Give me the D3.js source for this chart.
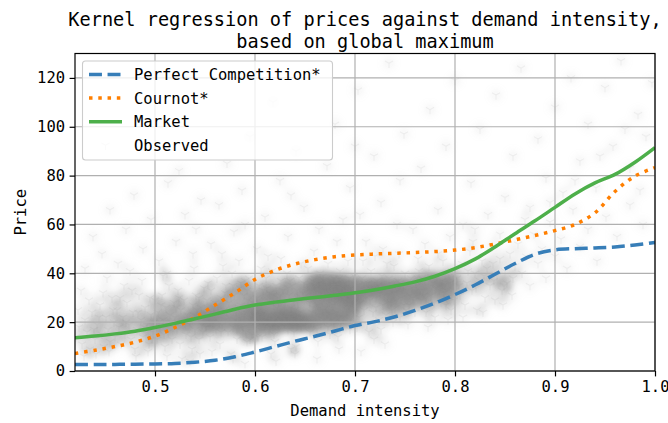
<!DOCTYPE html>
<html><head><meta charset="utf-8">
<script src="https://cdn.jsdelivr.net/npm/d3@7"></script>
<style>body{margin:0;background:#fff} svg{display:block} text{font-family:"DejaVu Sans Mono",monospace;fill:#000}</style>
</head><body><svg id="c" width="668" height="423"></svg>
<script>
const titleLines = ["Kernel regression of prices against demand intensity,", "based on global maximum"];
const xTicks = [0.5, 0.6, 0.7, 0.8, 0.9, 1.0];
const yTicks = [0, 20, 40, 60, 80, 100, 120];
const seriesNames = ["Perfect Competition*", "Cournot*", "Market", "Observed"];
const demandGrid = [0.42,0.44,0.46,0.48,0.50,0.52,0.54,0.56,0.58,0.60,0.62,0.64,0.66,0.68,0.70,0.72,0.74,0.76,0.78,0.80,0.82,0.84,0.86,0.88,0.90,0.92,0.94,0.96,0.98,1.00];
const perfectCompetition = [2.7,2.7,2.7,2.8,2.9,3.1,3.6,4.4,5.8,7.8,10.0,12.2,14.2,16.4,18.6,20.2,22.2,24.8,27.8,31.3,35.2,39.6,44.0,47.8,49.6,50.1,50.4,50.8,51.6,52.6];
const cournot = [7.2,8.5,10.0,11.8,14.3,17.8,22.0,27.0,32.0,37.5,41.2,43.8,45.6,46.8,47.5,47.9,48.2,48.5,48.9,49.5,50.5,52.0,53.7,55.5,57.5,60.0,64.8,73.5,79.8,83.3];
const market = [13.6,14.3,15.2,16.3,17.8,19.5,21.4,23.3,25.3,27.0,28.2,29.2,30.1,31.0,32.0,33.3,34.8,36.5,38.8,41.9,45.8,50.8,56.2,61.5,67.0,72.5,77.0,80.5,85.5,91.5];
// observed (demand intensity, price) pairs, read approximately off the cloud
const observed = [
[0.421,14],[0.424,18],[0.427,11],[0.43,21],[0.432,16],[0.435,9],[0.437,24],[0.44,13],[0.442,19],[0.445,27],[0.447,15],[0.449,10],[0.451,22],[0.453,17],[0.455,12],[0.457,30],[0.459,20],[0.46,14],[0.426,33],[0.441,7],
[0.423,25],[0.429,6],[0.434,29],[0.439,17],[0.444,22],[0.448,32],[0.454,8],[0.458,25],
[0.462,25],[0.464,18],[0.466,11],[0.468,22],[0.47,15],[0.472,28],[0.474,19],[0.476,13],[0.478,24],[0.48,9],[0.482,17],[0.484,31],[0.486,21],[0.488,14],[0.49,26],[0.492,19],[0.494,11],[0.496,23],[0.498,16],[0.5,29],[0.469,35],[0.481,6],[0.487,37],[0.493,8],[0.499,20],
[0.465,30],[0.471,20],[0.477,33],[0.483,24],[0.489,18],[0.495,30],[0.497,13],
[0.502,13],[0.503,24],[0.505,18],[0.507,31],[0.508,21],[0.51,10],[0.511,26],[0.513,16],[0.514,35],[0.516,20],[0.517,13],[0.519,28],[0.52,22],[0.522,17],[0.523,33],[0.525,11],[0.526,25],[0.528,19],[0.529,29],[0.531,15],[0.532,23],[0.534,37],[0.535,20],[0.537,9],[0.538,27],[0.54,17],[0.541,31],[0.543,22],[0.544,13],[0.546,26],[0.547,19],[0.549,34],[0.55,24],[0.512,40],[0.527,5],[0.539,42],[0.545,7],[0.518,18],[0.533,21],[0.548,16],[0.506,27],[0.524,30],[0.536,14],[0.542,25],[0.515,23],
[0.504,20],[0.509,15],[0.521,26],[0.53,19],[0.539,23],[0.544,30],[0.549,21],
[0.551,18],[0.552,29],[0.554,22],[0.555,14],[0.556,33],[0.558,20],[0.559,26],[0.561,17],[0.562,38],[0.563,23],[0.565,11],[0.566,30],[0.567,19],[0.569,25],[0.57,21],[0.571,35],[0.573,16],[0.574,28],[0.575,22],[0.577,40],[0.578,18],[0.579,31],[0.581,24],[0.582,13],[0.583,20],[0.585,34],[0.586,27],[0.587,19],[0.589,23],[0.59,37],[0.591,16],[0.593,29],[0.594,21],[0.595,13],[0.597,25],[0.598,32],[0.599,19],[0.6,23],[0.557,24],[0.564,20],[0.572,24],[0.58,21],[0.588,18],[0.596,22],[0.553,36],[0.568,43],[0.576,7],[0.584,45],[0.592,12],[0.56,28],[0.576,30],[0.584,26],[0.592,33],[0.598,28],[0.566,16],[0.582,17],[0.59,24],[0.57,32],[0.586,36],[0.594,38],[0.555,20],[0.563,27],[0.578,35],[0.589,31],[0.597,15],
[0.601,18],[0.602,30],[0.603,22],[0.604,35],[0.605,20],[0.606,27],[0.607,14],[0.608,33],[0.609,24],[0.61,19],[0.611,38],[0.612,21],[0.613,29],[0.614,17],[0.615,32],[0.616,23],[0.617,41],[0.618,20],[0.619,27],[0.62,12],[0.621,35],[0.622,22],[0.623,30],[0.624,18],[0.625,25],[0.626,37],[0.627,21],[0.628,33],[0.629,19],[0.63,28],[0.631,23],[0.632,40],[0.633,17],[0.634,31],[0.635,21],[0.636,26],[0.637,35],[0.638,19],[0.639,29],[0.64,22],[0.641,10],[0.642,33],[0.643,20],[0.644,38],[0.645,24],[0.646,18],[0.647,30],[0.648,22],[0.649,36],[0.65,19],[0.603,26],[0.608,20],[0.613,23],[0.618,31],[0.623,19],[0.628,24],[0.633,34],[0.638,22],[0.643,28],[0.648,32],[0.606,42],[0.616,7],[0.626,46],[0.636,9],[0.646,44],[0.605,23],[0.61,29],[0.615,18],[0.62,21],[0.625,31],[0.63,20],[0.635,37],[0.64,25],[0.645,21],[0.612,34],[0.622,26],[0.632,22],[0.642,19],[0.619,15],[0.639,16],
[0.651,31],[0.652,22],[0.653,35],[0.654,19],[0.655,28],[0.656,33],[0.657,24],[0.658,37],[0.659,20],[0.66,30],[0.661,34],[0.662,17],[0.663,27],[0.664,36],[0.665,22],[0.666,32],[0.667,29],[0.668,39],[0.669,21],[0.67,33],[0.671,26],[0.672,35],[0.673,18],[0.674,30],[0.675,37],[0.676,23],[0.677,31],[0.678,34],[0.679,20],[0.68,28],[0.681,36],[0.682,24],[0.683,32],[0.684,38],[0.685,19],[0.686,30],[0.687,34],[0.688,22],[0.689,29],[0.69,36],[0.691,33],[0.692,25],[0.693,31],[0.694,38],[0.695,21],[0.696,34],[0.697,29],[0.698,36],[0.699,24],[0.7,32],[0.653,42],[0.663,12],[0.673,44],[0.683,14],[0.693,45],[0.656,20],[0.666,19],[0.676,21],[0.686,20],[0.696,22],[0.658,26],[0.668,25],[0.678,27],[0.688,26],[0.698,28],[0.66,35],[0.67,37],[0.68,31],[0.69,34],[0.655,16],[0.665,40],[0.675,15],[0.685,41],[0.695,17],[0.662,31],[0.672,33],[0.682,35],[0.692,30],[0.664,23],[0.674,24],[0.684,22],[0.694,26],[0.659,38],[0.679,38],[0.699,39],
[0.701,27],[0.703,35],[0.704,22],[0.706,31],[0.707,38],[0.709,25],[0.71,33],[0.712,19],[0.713,36],[0.715,29],[0.716,41],[0.718,24],[0.719,34],[0.721,30],[0.722,37],[0.724,21],[0.725,32],[0.727,39],[0.728,27],[0.73,35],[0.731,23],[0.733,31],[0.734,38],[0.736,28],[0.737,34],[0.739,43],[0.74,26],[0.742,33],[0.743,37],[0.745,22],[0.746,30],[0.748,35],[0.749,27],[0.75,40],[0.705,28],[0.711,30],[0.717,33],[0.723,35],[0.729,31],[0.735,36],[0.741,29],[0.747,33],[0.702,18],[0.714,16],[0.726,17],[0.738,20],[0.708,45],[0.72,47],[0.732,44],[0.744,48],[0.703,31],[0.709,36],[0.715,34],[0.721,26],[0.727,34],[0.733,28],[0.739,32],[0.745,36],[0.719,13],[0.737,25],
[0.752,33],[0.754,27],[0.756,38],[0.758,30],[0.76,24],[0.762,35],[0.764,41],[0.766,29],[0.768,33],[0.77,37],[0.772,26],[0.774,43],[0.776,31],[0.778,36],[0.78,22],[0.782,39],[0.784,33],[0.786,28],[0.788,45],[0.79,35],[0.792,30],[0.794,40],[0.796,25],[0.798,37],[0.8,33],[0.753,19],[0.763,46],[0.773,18],[0.783,48],[0.793,21],[0.757,34],[0.767,38],[0.777,35],[0.787,37],[0.797,41],[0.759,29],[0.769,31],[0.779,28],[0.789,32],[0.799,29],
[0.755,31],[0.761,36],[0.765,33],[0.771,30],[0.775,39],[0.781,34],[0.785,38],[0.791,33],[0.795,36],[0.751,25],[0.771,24],[0.791,27],
[0.802,38],[0.805,31],[0.807,44],[0.81,27],[0.812,36],[0.815,49],[0.817,33],[0.82,40],[0.822,25],[0.825,37],[0.827,45],[0.83,30],[0.832,42],[0.835,35],[0.837,51],[0.84,29],[0.842,39],[0.845,46],[0.847,33],[0.85,41],[0.852,36],[0.855,48],[0.857,31],[0.86,43],[0.808,22],[0.818,53],[0.828,24],[0.838,44],[0.848,27],[0.858,38],
[0.804,35],[0.813,41],[0.821,34],[0.829,39],[0.839,37],[0.849,35],
[0.863,52],[0.867,40],[0.871,47],[0.875,35],[0.879,56],[0.883,44],[0.887,50],[0.891,38],[0.895,61],[0.9,47],[0.906,54],[0.912,42],[0.918,66],[0.925,51],[0.933,58],[0.942,45],[0.951,63],[0.962,55],[0.975,68],[0.988,60],
[0.43,42],[0.438,55],[0.447,48],[0.455,66],[0.463,44],[0.471,58],[0.479,72],[0.488,50],[0.496,62],[0.504,45],[0.513,77],[0.521,53],[0.53,64],[0.538,48],[0.546,70],[0.452,38],[0.475,41],[0.508,39],[0.524,82],[0.541,58],
[0.556,52],[0.564,68],[0.572,85],[0.579,57],[0.587,74],[0.595,96],[0.602,50],[0.61,63],[0.618,110],[0.625,78],[0.633,55],[0.641,90],[0.649,67],[0.657,122],[0.664,58],[0.672,84],[0.68,101],[0.688,62],[0.695,75],[0.703,115],[0.711,53],[0.719,88],[0.726,69],[0.734,126],[0.742,60],[0.749,97],[0.567,48],[0.59,60],[0.613,47],[0.636,72],[0.659,49],[0.682,53],[0.705,64],[0.728,50],[0.745,78],[0.7,92],
[0.758,58],[0.766,83],[0.775,107],[0.783,66],[0.791,92],[0.8,119],[0.808,60],[0.816,77],[0.825,99],[0.833,64],[0.841,113],[0.85,71],[0.858,88],[0.866,124],[0.875,67],[0.883,95],[0.891,79],[0.9,108],[0.908,73],[0.916,120],[0.925,86],[0.933,101],[0.941,75],[0.95,116],[0.958,92],[0.966,127],[0.975,83],[0.983,105],[0.991,96],[0.997,118],[0.77,52],[0.795,55],[0.82,58],[0.845,56],[0.87,62],[0.895,69],[0.92,78],[0.945,88],[0.97,99],[0.985,74],
[0.512,6],[0.535,4],[0.557,8],[0.578,5],[0.603,14],[0.621,4],[0.64,7],[0.662,5],[0.684,9],[0.706,8],[0.73,11],[0.59,3]
];

const colors = ["#377eb8", "#ff7f00", "#4daf4a"];
const LW = 3.5;
const dashes = [`${3.7*LW},${1.6*LW}`, `${1*LW},${1.65*LW}`, null];

const svg = d3.select("#c");
const L = 75, R = 655, T = 53.5, B = 371;
const x = d3.scaleLinear().domain([0.42, 1.0]).range([L, R]);
const y = d3.scaleLinear().domain([0, 130]).range([B, T]);

const defs = svg.append("defs");
defs.append("clipPath").attr("id", "plot").append("rect").attr("x", L).attr("y", T).attr("width", R - L).attr("height", B - T);
const flt = defs.append("filter").attr("id", "soft").attr("x", "-20%").attr("y", "-20%").attr("width", "140%").attr("height", "140%");
flt.append("feGaussianBlur").attr("stdDeviation", 3).attr("result", "b");
flt.append("feComponentTransfer").attr("in", "b")
  .append("feFuncA").attr("type", "table").attr("tableValues", "0 0.02 0.09 0.24 0.46 0.68 0.84 0.93 0.97 1 1");

// scatter
const sc = svg.append("g").attr("clip-path", "url(#plot)");
sc.append("g").attr("filter", "url(#soft)").selectAll("circle").data(observed).join("circle")
  .attr("cx", d => x(d[0])).attr("cy", d => y(d[1])).attr("r", 9)
  .attr("fill", "#808080").attr("fill-opacity", 0.15);
const tri = "M0,0V4.7M0,0L-4.07,-2.35M0,0L4.07,-2.35";
sc.append("g").selectAll("path").data(observed).join("path")
  .attr("transform", d => `translate(${x(d[0])},${y(d[1])})`).attr("d", tri)
  .attr("fill", "none").attr("stroke", "#808080").attr("stroke-width", 1.1).attr("stroke-opacity", 0.09);

// grid
const grid = svg.append("g").attr("stroke", "#b0b0b0").attr("stroke-width", 1.2);
grid.selectAll("line.v").data(xTicks).join("line").attr("class", "v")
  .attr("x1", d => x(d)).attr("x2", d => x(d)).attr("y1", T).attr("y2", B);
grid.selectAll("line.h").data(yTicks).join("line").attr("class", "h")
  .attr("x1", L).attr("x2", R).attr("y1", d => y(d)).attr("y2", d => y(d));

// lines
const seriesVals = [perfectCompetition, cournot, market];
const line = d3.line().x(d => x(d[0])).y(d => y(d[1])).curve(d3.curveCatmullRom);
const lg = svg.append("g").attr("clip-path", "url(#plot)");
seriesVals.forEach((vals, i) => {
  lg.append("path").datum(demandGrid.map((g, j) => [g, vals[j]]))
    .attr("d", line).attr("fill", "none").attr("stroke", colors[i]).attr("stroke-width", LW)
    .attr("stroke-dasharray", dashes[i]).attr("stroke-linecap", "butt");
});

// axes
const fs = 15.5;
const xAxis = svg.append("g").attr("transform", `translate(0,${B})`)
  .call(d3.axisBottom(x).tickValues(xTicks).tickFormat(d3.format(".1f")).tickSize(5.4).tickPadding(4.5));
const yAxis = svg.append("g").attr("transform", `translate(${L},0)`)
  .call(d3.axisLeft(y).tickValues(yTicks).tickFormat(d3.format("d")).tickSize(5.4).tickPadding(4.5));
[xAxis, yAxis].forEach(a => {
  a.select(".domain").remove();
  a.selectAll(".tick line").attr("stroke", "#000").attr("stroke-width", 1.2);
  a.selectAll(".tick text").attr("font-family", "DejaVu Sans Mono").attr("font-size", fs).attr("fill", "#000");
});
svg.append("rect").attr("x", L).attr("y", T).attr("width", R - L).attr("height", B - T)
  .attr("fill", "none").attr("stroke", "#000").attr("stroke-width", 1.2);

svg.append("text").attr("x", (L + R) / 2).attr("y", 416).attr("text-anchor", "middle").attr("font-size", fs).text("Demand intensity");
svg.append("text").attr("transform", `translate(26,${(T + B) / 2}) rotate(-90)`).attr("text-anchor", "middle").attr("font-size", fs).text("Price");

titleLines.forEach((t, i) => {
  svg.append("text").attr("x", (L + R) / 2).attr("y", 26 + i * 22).attr("text-anchor", "middle").attr("font-size", 18.6).text(t);
});

// legend
const leg = svg.append("g");
leg.append("rect").attr("x", 82.5).attr("y", 61).attr("width", 250).attr("height", 99).attr("rx", 3)
  .attr("fill", "#fff").attr("fill-opacity", 0.8).attr("stroke", "#cccccc").attr("stroke-width", 1.1);
seriesNames.forEach((n, i) => {
  const cy = 74.5 + i * 23.6;
  if (i < 3) {
    leg.append("line").attr("x1", 89).attr("x2", 122).attr("y1", cy).attr("y2", cy)
      .attr("stroke", colors[i]).attr("stroke-width", LW).attr("stroke-dasharray", dashes[i]);
  } else {
    leg.append("path").attr("transform", `translate(105.5,${cy})`).attr("d", tri)
      .attr("fill", "none").attr("stroke", "#808080").attr("stroke-width", 1.1).attr("stroke-opacity", 0.03);
  }
  leg.append("text").attr("x", 134).attr("y", cy + 5.6).attr("font-size", fs).text(n);
});
</script></body></html>
